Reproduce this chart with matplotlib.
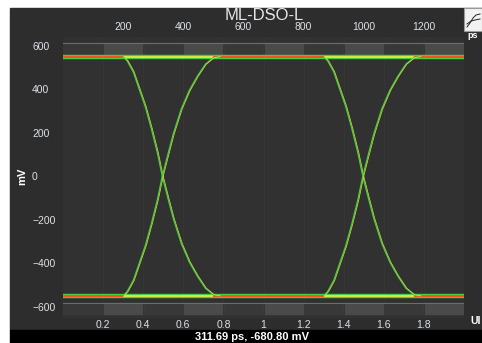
import numpy as np
import matplotlib
matplotlib.use('Agg')
import matplotlib.pyplot as plt
from matplotlib.patches import Rectangle

plt.rcParams['font.family'] = ['Liberation Sans', 'DejaVu Sans']

# chart data
title = 'ML-DSO-L'
ui_ticks = [0.2, 0.4, 0.6, 0.8, 1.0, 1.2, 1.4, 1.6, 1.8]
ui_labels = ['0.2', '0.4', '0.6', '0.8', '1', '1.2', '1.4', '1.6', '1.8']
ps_ticks = [200, 400, 600, 800, 1000, 1200]
mv_ticks = [-600, -400, -200, 0, 200, 400, 600]
ps_per_ui = 666.67
level_high = 550
level_low = -551
eye_starts = [0.0, 1.0]          # UI offset of each transition group
# falling edge (mV) vs UI; rising edge is its mirror
edge_ui = [0.300, 0.320, 0.350, 0.380, 0.410, 0.440, 0.470, 0.495,
           0.520, 0.550, 0.590, 0.630, 0.670, 0.710, 0.750, 0.780]
edge_mv = [550, 530, 480, 400, 320, 220, 110, 0,
           -90, -195, -310, -395, -460, -515, -545, -550]
box_ui = [0.2, 0.6, 1.0, 1.4, 1.8]
readout = '311.69 ps, -680.80 mV'

W, H = 482, 343
def fx(px):
    return px / W
def fy(py):
    return 1 - py / H

fig = plt.figure(figsize=(W / 100, H / 100), dpi=100)
fig.patch.set_facecolor('white')

# dark instrument panel + black status bar (behind the axes)
fig.patches.append(Rectangle((fx(10), fy(330)), 1 - fx(10), fy(8) - fy(330),
                             transform=fig.transFigure, color='#2d2d2d', zorder=-2))
fig.patches.append(Rectangle((fx(10), 0), 1 - fx(10), fy(330),
                             transform=fig.transFigure, color='black', zorder=-2))

ax = fig.add_axes([fx(63), fy(317.6), (464 - 63) / W, (317.6 - 37) / H])
ax.set_facecolor('#313131')
for s in ax.spines.values():
    s.set_visible(False)
ax.set_xlim(0, 2)
ax.set_ylim(-650, 640)

# histogram bands at top / bottom
for lo, hi, line_y in [(564, 612, 612), (-634, -581, -581)]:
    ax.axhspan(lo, hi, color='#383838', zorder=1)
    for b in box_ui:
        ax.add_patch(Rectangle((b, lo), 0.2, hi - lo, color='#4a4a4a', zorder=1))
    ax.axhline(line_y, color='#6c6c6c', lw=0.8, zorder=2)

ax.set_xticks(ui_ticks, ui_labels)
ax.grid(axis='x', color='#363636', lw=0.7, zorder=0)

green = '#42cc42'
yellow = '#d6e445'
red = '#ff2a12'

# signal levels
bounds = [0.0]
for s in eye_starts:
    bounds += [s + edge_ui[0], s + edge_ui[-2]]
bounds.append(2.0)
for lvl in (level_high, level_low):
    ax.plot([0, 2], [lvl, lvl], color=green, lw=3.2, solid_capstyle='butt', zorder=3)
    ax.plot([0, 2], [lvl, lvl], color=yellow, lw=1.5, solid_capstyle='butt', zorder=3)
    for a, b in zip(bounds[0::2], bounds[1::2]):
        ax.plot([a, b], [lvl, lvl], color=red, lw=1.1, solid_capstyle='butt', zorder=3)

# transitions
for s in eye_starts:
    t = s + np.array(edge_ui)
    fall = np.array(edge_mv)
    for sign in (1, -1):
        ax.plot(t, sign * fall, color=green, lw=0.9, zorder=4)
        ax.plot(t + 0.005, sign * fall, color=yellow, lw=0.5, zorder=4)

lab = dict(colors='#dde1e6', labelsize=7.5, length=0)
ax.set_yticks(mv_ticks)
ax.tick_params(axis='y', pad=22.3, **lab)
for t in ax.get_yticklabels():
    t.set_ha('left')
ax.tick_params(axis='x', pad=1.5, **lab)

top = ax.secondary_xaxis('top', functions=(lambda u: u * ps_per_ui, lambda p: p / ps_per_ui))
top.set_xticks(ps_ticks)
top.tick_params(pad=3.5, **lab)
top.spines['top'].set_visible(False)

fig.text(fx(264), fy(16), title, ha='center', va='center', fontsize=12, color='#e6e6e6')
fig.text(fx(22), fy(176), 'mV', rotation=90, ha='center', va='center',
         fontsize=8, fontweight='bold', color='white')
fig.text(fx(470), fy(321), 'UI', ha='left', va='center', fontsize=7.5,
         fontweight='bold', color='white')
fig.text(fx(252), fy(337), readout, ha='center', va='center', fontsize=8,
         fontweight='bold', color='white')

# small zoom icon at top right
fig.patches.append(Rectangle((fx(464), fy(31)), fx(17.5), fy(8) - fy(31),
                             transform=fig.transFigure, facecolor='#f2f2f2',
                             edgecolor='#9a9a9a', lw=0.8, zorder=2))
fig.add_artist(plt.Line2D([fx(467), fx(470), fx(473), fx(476), fx(480)],
                          [fy(27), fy(23), fy(18), fy(15), fy(14)],
                          color='#222222', lw=0.7, zorder=3))
fig.add_artist(plt.Line2D([fx(467), fx(471), fx(475), fx(480)],
                          [fy(24), fy(21), fy(20), fy(19)],
                          color='#222222', lw=0.7, zorder=3))
fig.text(fx(467), fy(36), 'ps', ha='left', va='center', fontsize=6.5,
         fontweight='bold', color='white')

fig.savefig('out.png', dpi=100)
